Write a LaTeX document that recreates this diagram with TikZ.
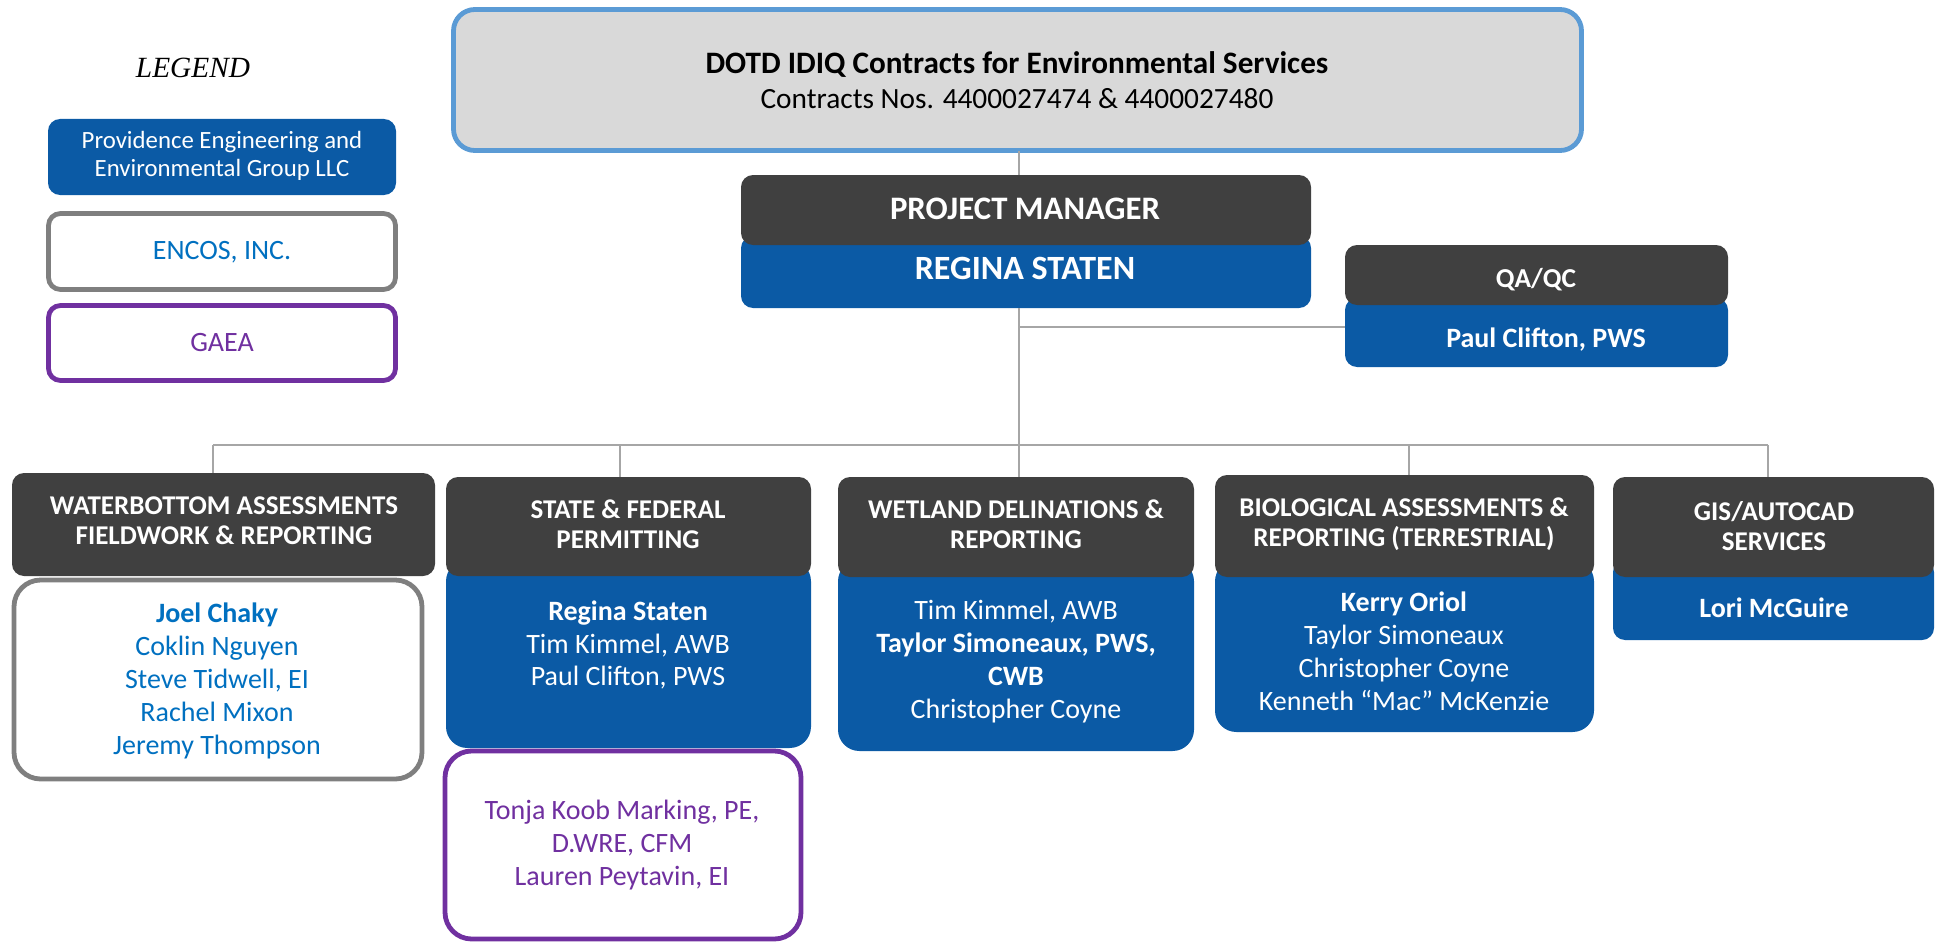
\documentclass[tikz,border=0pt]{standalone}
\usepackage{fontspec}
\setmainfont{Carlito}
\newfontfamily\legendfont{Liberation Serif}
\usetikzlibrary{fit,calc}
\definecolor{hdrgray}{HTML}{404040}
\definecolor{bodyblue}{HTML}{0B5AA5}
\definecolor{encosgray}{HTML}{7F7F7F}
\definecolor{gaeapurple}{HTML}{7030A0}
\definecolor{topborder}{HTML}{5B9BD5}
\definecolor{topfill}{HTML}{D9D9D9}
\definecolor{linkgray}{HTML}{A6A6A6}
\definecolor{nameblue}{HTML}{0070C0}
\tikzset{
  box/.style={inner sep=0pt, outer sep=0pt, rounded corners=9pt},
  hdrbox/.style={box, fill=hdrgray},
  bluebox/.style={box, fill=bodyblue},
  bigblue/.style={box, fill=bodyblue, rounded corners=16pt},
  encosbox/.style={box, draw=encosgray, line width=3.6pt, fill=white},
  gaeabox/.style={box, draw=gaeapurple, line width=3.6pt, fill=white},
  bigencos/.style={encosbox, rounded corners=20pt},
  biggaea/.style={gaeabox, rounded corners=20pt},
  topbox/.style={box, draw=topborder, line width=3.6pt, fill=topfill, rounded corners=16pt},
  txt/.style={inner sep=0pt, outer sep=0pt, align=center},
  hdrtext/.style={txt, text=white, font=\bfseries\fontsize{20.3}{22.5}\selectfont},
  bodytext/.style={txt, text=white, font=\fontsize{21}{24.75}\selectfont},
  link/.style={draw=linkgray, line width=1pt}
}
\begin{document}
\begin{tikzpicture}[x=0.75pt, y=-0.75pt]
\useasboundingbox (0,0) rectangle (1936,942);
% legend
\node[txt, font=\legendfont\itshape\fontsize{22}{26}\selectfont] (legtitle) at (193,68) {LEGEND};
\node[bluebox, fit={(48,119) (396,195)}] (leg1) {};
\node[txt, text=white, font=\fontsize{18.6}{21}\selectfont] (leg1t) at (222,156) {Providence Engineering and\\Environmental Group LLC};
\node[encosbox, fit={(48.5,213.5) (395.5,289.5)}] (leg2) {};
\node[txt, text=nameblue, font=\fontsize{21}{25}\selectfont] (leg2t) at (222,252) {ENCOS, INC.};
\node[gaeabox, fit={(48.5,305.5) (395.5,380.5)}] (leg3) {};
\node[txt, text=gaeapurple, font=\fontsize{21}{25}\selectfont] (leg3t) at (222,343) {GAEA};
% top
\node[topbox, fit={(453.5,9.5) (1581.5,150.5)}] (top) {};
\node[txt, font=\fontsize{22}{26}\selectfont] (topt) at (1017,80) {\textbf{\fontsize{23.4}{26}\selectfont DOTD IDIQ Contracts for Environmental Services}\\Contracts Nos. 4400027474 \& 4400027480};
% project manager
\node[bluebox, fit={(741,236) (1311,308)}] (pmb) {};
\node[hdrbox, fit={(741,175) (1311,245)}] (pmh) {};
\node[txt, text=white, font=\bfseries\fontsize{24.6}{28}\selectfont] (pmht) at (1025,209) {PROJECT MANAGER};
\node[txt, text=white, font=\bfseries\fontsize{25.5}{28}\selectfont] (pmbt) at (1025,268) {REGINA STATEN};
% QA/QC
\node[bluebox, fit={(1345,298) (1728,367)}] (qab) {};
\node[hdrbox, fit={(1345,245) (1728,305)}] (qah) {};
\node[txt, text=white, font=\bfseries\fontsize{20.5}{23}\selectfont] (qaht) at (1536,280) {QA/QC};
\node[txt, text=white, font=\bfseries\fontsize{21}{25}\selectfont] (qabt) at (1546,340) {Paul Clifton, PWS};
% connectors top
\coordinate (branch) at (0,327);
\coordinate (bus) at (0,445);
\coordinate (d1) at (213,445);
\coordinate (d2) at (620,445);
\coordinate (d3) at (1019,445);
\coordinate (d4) at (1409,445);
\coordinate (d5) at (1768,445);
\draw[link] (top.south -| d3) -- (pmh.north -| d3);
\draw[link] (pmb.south -| d3) -- (d3);
\draw[link] (branch -| d3) -- (branch -| qab.west);
\draw[link] (d1) -- (d5);
% column 1
\node[bigencos, fit={(14,580) (422,779)}] (b1) {};
\node[hdrbox, fit={(12,473) (435,576)}] (h1) {};
\node[hdrtext] (h1t) at (224,521) {WATERBOTTOM ASSESSMENTS\\FIELDWORK \& REPORTING};
\node[txt, text=nameblue, font=\fontsize{21}{24.75}\selectfont] (b1t) at (217,681) {\textbf{Joel Chaky}\\Coklin Nguyen\\Steve Tidwell, EI\\Rachel Mixon\\Jeremy Thompson};
% column 2
\node[biggaea, fit={(445,751) (801,939)}] (g2) {};
\node[bigblue, fit={(446,560) (811,748)}] (b2) {};
\node[hdrbox, fit={(446,477) (811,576)}] (h2) {};
\node[hdrtext] (h2t) at (628,524) {STATE \& FEDERAL\\PERMITTING};
\node[bodytext, font=\fontsize{21}{24.4}\selectfont] (b2t) at (628,645) {\textbf{Regina Staten}\\Tim Kimmel, AWB\\Paul Clifton, PWS};
\node[txt, text=gaeapurple, font=\fontsize{21}{24.4}\selectfont] (g2t) at (622,845) {Tonja Koob Marking, PE,\\D.WRE, CFM\\Lauren Peytavin, EI};
% column 3
\node[bigblue, fit={(838,560) (1194,751)}] (b3) {};
\node[hdrbox, fit={(838,477) (1194,577)}] (h3) {};
\node[hdrtext] (h3t) at (1016,524) {WETLAND DELINATIONS \&\\REPORTING};
\node[bodytext, font=\fontsize{21}{24.75}\selectfont] (b3t) at (1016,662) {Tim Kimmel, AWB\\\textbf{Taylor Simoneaux, PWS,}\\\textbf{CWB}\\Christopher Coyne};
% column 4
\node[bigblue, fit={(1215,560) (1594,732)}] (b4) {};
\node[hdrbox, fit={(1215,475) (1594,577)}] (h4) {};
\node[hdrtext] (h4t) at (1404,524) {BIOLOGICAL ASSESSMENTS \&\\REPORTING (TERRESTRIAL)};
\node[bodytext, font=\fontsize{21}{24.75}\selectfont] (b4t) at (1404,651) {\textbf{Kerry Oriol}\\Taylor Simoneaux\\Christopher Coyne\\Kenneth “Mac” McKenzie};
% column 5
\node[bluebox, fit={(1613,560) (1934,640)}] (b5) {};
\node[hdrbox, fit={(1613,477) (1934,577)}] (h5) {};
\node[hdrtext] (h5t) at (1774,526) {GIS/AUTOCAD\\SERVICES};
\node[bodytext, font=\bfseries\fontsize{21}{25}\selectfont] (b5t) at (1774,608) {Lori McGuire};
% drops
\draw[link] (d1) -- (d1 |- h1.north);
\draw[link] (d2) -- (d2 |- h2.north);
\draw[link] (d3) -- (d3 |- h3.north);
\draw[link] (d4) -- (d4 |- h4.north);
\draw[link] (d5) -- (d5 |- h5.north);
\end{tikzpicture}
\end{document}
